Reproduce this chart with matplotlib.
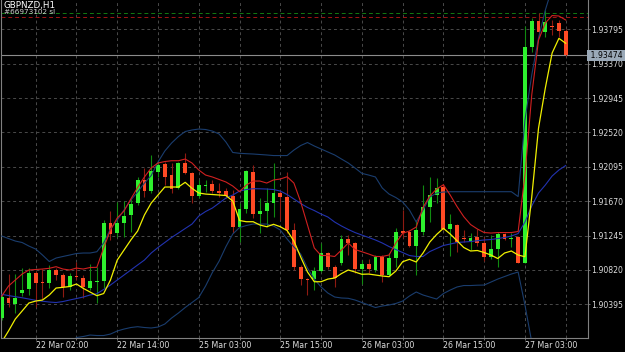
import matplotlib
matplotlib.use("Agg")
import matplotlib.pyplot as plt
import numpy as np
from matplotlib.transforms import blended_transform_factory

# ---- chart data (GBPNZD, H1) ----
symbol_title = "GBPNZD,H1"
order_label = "#66973102 sl"

opens = [1.90229, 1.90476, 1.90398, 1.90531, 1.90580, 1.90778, 1.90670, 1.90662, 1.90819, 1.90757,
         1.90612, 1.90745, 1.90724, 1.90600, 1.90674, 1.90686, 1.91404, 1.91272, 1.91404, 1.91495,
         1.91651, 1.91932, 1.91799, 1.92034, 1.92129, 1.91993, 1.91829, 1.92138, 1.92022, 1.91734,
         1.91857, 1.91882, 1.91799, 1.91795, 1.91734, 1.91354, 1.91569, 1.92027, 1.91507, 1.91552,
         1.91651, 1.91774, 1.91725, 1.91313, 1.90852, 1.90707, 1.90707, 1.90810, 1.91033, 1.90852,
         1.90902, 1.91202, 1.91156, 1.90827, 1.90889, 1.90819, 1.90983, 1.90757, 1.90971, 1.91301,
         1.91292, 1.91115, 1.91292, 1.91601, 1.91750, 1.91851, 1.91322, 1.91371, 1.91214, 1.91181,
         1.91221, 1.91156, 1.90983, 1.91082, 1.91260, 1.91208, 1.91227, 1.90909, 1.93580, 1.93901,
         1.93765, 1.93836, 1.93876, 1.93777]
highs = [1.90510, 1.90769, 1.90766, 1.90843, 1.90847, 1.90810, 1.90831, 1.90881, 1.90847, 1.90778,
         1.90778, 1.90918, 1.90757, 1.90889, 1.90856, 1.91437, 1.91548, 1.91663, 1.91672, 1.91697,
         1.91972, 1.92076, 1.92241, 1.92145, 1.92158, 1.92145, 1.92158, 1.92262, 1.92034, 1.91932,
         1.91932, 1.91932, 1.91891, 1.91829, 1.91808, 1.91643, 1.92055, 1.92117, 1.91705, 1.91829,
         1.92138, 1.91808, 1.92034, 1.91396, 1.90881, 1.90716, 1.90860, 1.91149, 1.91045, 1.90881,
         1.91251, 1.91251, 1.91169, 1.90942, 1.90951, 1.91004, 1.91004, 1.91025, 1.91334, 1.91561,
         1.91313, 1.91437, 1.91870, 1.91972, 1.91953, 1.91878, 1.91511, 1.91387, 1.91313, 1.91282,
         1.91326, 1.91233, 1.91251, 1.91295, 1.91276, 1.91272, 1.91239, 1.93836, 1.93931, 1.93993,
         1.94033, 1.93910, 1.93910, 1.93798]
lows = [1.90201, 1.90365, 1.90291, 1.90497, 1.90510, 1.90361, 1.90456, 1.90592, 1.90695, 1.90489,
        1.90571, 1.90695, 1.90469, 1.90571, 1.90407, 1.90592, 1.91190, 1.91223, 1.91230, 1.91292,
        1.91622, 1.91725, 1.91767, 1.91965, 1.91870, 1.91767, 1.91816, 1.92006, 1.91643, 1.91705,
        1.91787, 1.91774, 1.91725, 1.91705, 1.91272, 1.91169, 1.91520, 1.91458, 1.91272, 1.91354,
        1.91478, 1.91437, 1.91272, 1.90819, 1.90633, 1.90510, 1.90571, 1.90798, 1.90827, 1.90612,
        1.90881, 1.91004, 1.90778, 1.90646, 1.90778, 1.90798, 1.90674, 1.90745, 1.90860, 1.91214,
        1.91107, 1.90757, 1.91251, 1.91416, 1.91643, 1.91313, 1.90998, 1.91045, 1.91169, 1.91066,
        1.91115, 1.90930, 1.90955, 1.90856, 1.91193, 1.91107, 1.90902, 1.90902, 1.93518, 1.93703,
        1.93703, 1.93724, 1.93696, 1.93471]
closes = [1.90489, 1.90407, 1.90476, 1.90571, 1.90778, 1.90662, 1.90658, 1.90819, 1.90757, 1.90612,
          1.90748, 1.90728, 1.90605, 1.90683, 1.90679, 1.91404, 1.91260, 1.91396, 1.91490, 1.91635,
          1.91932, 1.91799, 1.92039, 1.92121, 1.91972, 1.91816, 1.92145, 1.92022, 1.91734, 1.91866,
          1.91873, 1.91799, 1.91777, 1.91740, 1.91354, 1.91569, 1.92043, 1.91511, 1.91552, 1.91651,
          1.91774, 1.91725, 1.91313, 1.90852, 1.90707, 1.90695, 1.90806, 1.91025, 1.90852, 1.90716,
          1.91202, 1.91149, 1.90827, 1.90889, 1.90827, 1.90983, 1.90757, 1.90971, 1.91292, 1.91280,
          1.91115, 1.91313, 1.91601, 1.91746, 1.91833, 1.91326, 1.91387, 1.91171, 1.91202, 1.91218,
          1.91159, 1.90983, 1.91082, 1.91260, 1.91208, 1.91218, 1.90909, 1.93572, 1.93901, 1.93765,
          1.93881, 1.93823, 1.93774, 1.93474]

ma_fast = [1.89929, 1.90065, 1.90213, 1.90312, 1.90411, 1.90435, 1.90448, 1.90510, 1.90596, 1.90605,
           1.90615, 1.90646, 1.90592, 1.90547, 1.90501, 1.90528, 1.90695, 1.90942, 1.91066, 1.91190,
           1.91301, 1.91499, 1.91647, 1.91746, 1.91845, 1.91845, 1.91845, 1.91903, 1.91829, 1.91771,
           1.91758, 1.91752, 1.91746, 1.91740, 1.91672, 1.91431, 1.91416, 1.91416, 1.91375, 1.91354,
           1.91384, 1.91354, 1.91307, 1.91177, 1.90979, 1.90794, 1.90674, 1.90674, 1.90707, 1.90720,
           1.90775, 1.90819, 1.90794, 1.90766, 1.90769, 1.90757, 1.90745, 1.90736, 1.90806, 1.90921,
           1.90951, 1.90918, 1.91029, 1.91165, 1.91258, 1.91334, 1.91264, 1.91181, 1.91097, 1.91054,
           1.91060, 1.91035, 1.91004, 1.90961, 1.91029, 1.91054, 1.91004, 1.90983, 1.91721, 1.92574,
           1.93069, 1.93502, 1.93683, 1.93622]
ma_high = [1.90497, 1.90621, 1.90695, 1.90769, 1.90819, 1.90825, 1.90831, 1.90840, 1.90860, 1.90831,
           1.90819, 1.90843, 1.90831, 1.90850, 1.90852, 1.91091, 1.91313, 1.91462, 1.91548, 1.91697,
           1.91839, 1.91969, 1.92080, 1.92142, 1.92160, 1.92170, 1.92170, 1.92191, 1.92142, 1.92055,
           1.91993, 1.91969, 1.91938, 1.91907, 1.91857, 1.91787, 1.91870, 1.91919, 1.91919, 1.91894,
           1.91932, 1.91944, 1.91972, 1.91894, 1.91660, 1.91375, 1.91091, 1.90998, 1.90998, 1.90986,
           1.91066, 1.91153, 1.91072, 1.91045, 1.91017, 1.90986, 1.90986, 1.91004, 1.91153, 1.91272,
           1.91301, 1.91350, 1.91592, 1.91734, 1.91820, 1.91873, 1.91746, 1.91604, 1.91478, 1.91381,
           1.91326, 1.91282, 1.91276, 1.91282, 1.91282, 1.91282, 1.91295, 1.91993, 1.92982, 1.93662,
           1.93873, 1.93965, 1.93959, 1.93910]
bb_mid = [1.90518, 1.90503, 1.90489, 1.90476, 1.90460, 1.90444, 1.90433, 1.90423, 1.90417, 1.90429,
          1.90448, 1.90466, 1.90485, 1.90510, 1.90526, 1.90578, 1.90633, 1.90695, 1.90757, 1.90819,
          1.90881, 1.90942, 1.91029, 1.91097, 1.91159, 1.91221, 1.91276, 1.91332, 1.91387, 1.91486,
          1.91542, 1.91585, 1.91647, 1.91709, 1.91746, 1.91795, 1.91814, 1.91824, 1.91823, 1.91820,
          1.91814, 1.91795, 1.91752, 1.91697, 1.91641, 1.91592, 1.91554, 1.91511, 1.91474, 1.91412,
          1.91363, 1.91320, 1.91282, 1.91251, 1.91221, 1.91190, 1.91153, 1.91109, 1.91072, 1.91035,
          1.90998, 1.90986, 1.90986, 1.91047, 1.91085, 1.91122, 1.91140, 1.91159, 1.91165, 1.91171,
          1.91181, 1.91190, 1.91196, 1.91208, 1.91221, 1.91239, 1.91270, 1.91412, 1.91610, 1.91771,
          1.91870, 1.91981, 1.92055, 1.92111]
bb_upper = [1.91239, 1.91208, 1.91177, 1.91159, 1.91115, 1.91078, 1.91004, 1.90924, 1.90967, 1.90986,
            1.91004, 1.91023, 1.91029, 1.91029, 1.91045, 1.91153, 1.91326, 1.91437, 1.91561, 1.91684,
            1.91783, 1.91894, 1.91987, 1.92154, 1.92290, 1.92389, 1.92469, 1.92531, 1.92550, 1.92562,
            1.92556, 1.92537, 1.92500, 1.92401, 1.92272, 1.92262, 1.92257, 1.92253, 1.92247, 1.92241,
            1.92234, 1.92234, 1.92234, 1.92302, 1.92358, 1.92395, 1.92352, 1.92315, 1.92278, 1.92241,
            1.92191, 1.92142, 1.92080, 1.92014, 1.91993, 1.91969, 1.91833, 1.91758, 1.91715, 1.91660,
            1.91561, 1.91412, 1.91561, 1.91721, 1.91771, 1.91783, 1.91787, 1.91787, 1.91787, 1.91787,
            1.91787, 1.91787, 1.91787, 1.91787, 1.91787, 1.91787, 1.91727, 1.92673, 1.93230, 1.93687,
            1.94033, 1.94305, 1.94503, 1.94652]
bb_lower = [1.89799, 1.89799, 1.89800, 1.89794, 1.89805, 1.89810, 1.89862, 1.89922, 1.89867, 1.89873,
            1.89891, 1.89984, 1.89997, 1.90015, 1.90009, 1.90009, 1.90027, 1.90065, 1.90089, 1.90108,
            1.90118, 1.90108, 1.90102, 1.90114, 1.90151, 1.90225, 1.90287, 1.90355, 1.90417, 1.90479,
            1.90621, 1.90788, 1.90930, 1.91109, 1.91264, 1.91344, 1.91369, 1.91387, 1.91387, 1.91387,
            1.91363, 1.91313, 1.91202, 1.91103, 1.91017, 1.90843, 1.90707, 1.90609, 1.90534, 1.90485,
            1.90473, 1.90469, 1.90448, 1.90417, 1.90386, 1.90355, 1.90374, 1.90386, 1.90405, 1.90435,
            1.90497, 1.90547, 1.90510, 1.90485, 1.90460, 1.90528, 1.90571, 1.90609, 1.90627, 1.90627,
            1.90631, 1.90633, 1.90670, 1.90707, 1.90738, 1.90769, 1.90794, 1.90386, 1.89929, 1.89830,
            1.89706, 1.89644, 1.89582, 1.89558]

time_ticks = [5, 17, 29, 41, 53, 65, 77]
time_labels = ["22 Mar 02:00", "22 Mar 14:00", "25 Mar 03:00", "25 Mar 15:00",
               "26 Mar 03:00", "26 Mar 15:00", "27 Mar 03:00"]
grid_bars = list(range(5, 84, 6))
price_ticks = [1.90395, 1.90820, 1.91245, 1.91670, 1.92095, 1.92520, 1.92945, 1.93370, 1.93795]
bid_price = 1.93474
open_price = 1.93993
sl_price = 1.93943

# ---- colours ----
BODY_UP, BODY_DN = "#2ef02e", "#ff4a24"
WICK_UP, WICK_DN = "#108a10", "#8e1a12"
TXT = "#dcdcdc"
FRAME = "#808080"

W, H = 625, 352
fig = plt.figure(figsize=(W / 100, H / 100), dpi=100, facecolor="black")
ax = fig.add_axes([1 / W, 14 / H, 587 / W, 338 / H], facecolor="black")

x = np.arange(len(opens))
o, h, l, c = map(np.array, (opens, highs, lows, closes))
up = c >= o

ax.vlines(x[up], l[up], h[up], color=WICK_UP, lw=0.8, zorder=3)
ax.vlines(x[~up], l[~up], h[~up], color=WICK_DN, lw=0.8, zorder=3)
body_lo = np.minimum(o, c)
body_h = np.maximum(np.abs(c - o), 0.00004)
ax.bar(x[up], body_h[up], bottom=body_lo[up], width=0.56, color=BODY_UP, lw=0, zorder=4)
ax.bar(x[~up], body_h[~up], bottom=body_lo[~up], width=0.56, color=BODY_DN, lw=0, zorder=4)

# indicators
ax.plot(x, bb_upper, color="#1a3d6e", lw=0.8, zorder=5)
ax.plot(x, bb_lower, color="#1a3d6e", lw=0.8, zorder=5)
ax.plot(x, bb_mid, color="#2233b0", lw=0.8, zorder=5)
ax.plot(x, ma_high, color="#d02020", lw=0.8, zorder=6)
ax.plot(x, ma_fast, color="#f0f000", lw=0.9, zorder=7)

# order / stop / bid lines
ax.axhline(open_price, color="#127a12", lw=0.7, ls=(0, (4, 3)), zorder=2)
ax.axhline(sl_price, color="#a01414", lw=0.7, ls=(0, (4, 3)), zorder=2)
ax.axhline(bid_price, color="#8c8c8c", lw=0.8, zorder=2)

ax.set_xlim(-0.106, 86.28)
ax.set_ylim(1.899783, 1.941572)

# grid + axes
ax.set_axisbelow(True)
ax.grid(True, color="#4a4a4a", lw=0.7, ls=(0, (3, 3)))
for side in ("left", "bottom", "right"):
    ax.spines[side].set_color(FRAME)
    ax.spines[side].set_linewidth(0.8)
ax.spines["top"].set_visible(False)

ax.yaxis.tick_right()
ax.set_yticks(price_ticks)
ax.set_yticklabels([f"{p:.5f}" for p in price_ticks])
ax.tick_params(axis="y", colors=FRAME, labelcolor=TXT, labelsize=5.6, length=1.5, width=0.6, pad=0.4)

ax.set_xticks(grid_bars)
ax.set_xticklabels([time_labels[time_ticks.index(b)] if b in time_ticks else "" for b in grid_bars])
ax.tick_params(axis="x", colors=FRAME, labelcolor=TXT, labelsize=5.7, length=1.5, width=0.6, pad=0.3)
for lbl in ax.get_xticklabels():
    lbl.set_horizontalalignment("left")

trans = blended_transform_factory(ax.transAxes, ax.transData)
ax.text(1.0, bid_price, f" {bid_price:.5f} ", transform=trans, ha="left", va="center",
        fontsize=5.6, color="black", clip_on=False, zorder=10,
        bbox=dict(boxstyle="square,pad=0.12", fc="#9aa9b8", ec="none"))

fig.text(4 / W, 1 - 1 / H, symbol_title, color="white", fontsize=6.3, ha="left", va="top")
fig.text(4 / W, 1 - 9 / H, order_label, color="#cfcfcf", fontsize=5.2, ha="left", va="top")

fig.savefig("out.png", dpi=100, facecolor="black")
